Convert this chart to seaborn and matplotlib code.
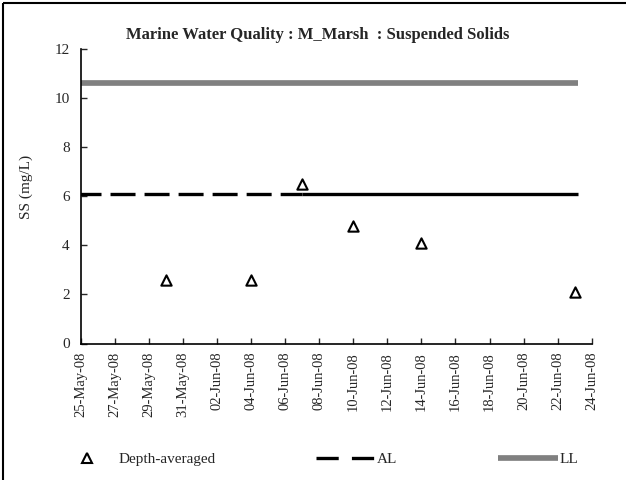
"""
Marine Water Quality : M_Marsh : Suspended Solids
"""
import pandas as pd
import matplotlib
matplotlib.use('Agg')
import matplotlib.pyplot as plt
import matplotlib.dates as mdates
from matplotlib.lines import Line2D
import seaborn as sns

# Datos
sample_dates = ['2008-05-30', '2008-06-04', '2008-06-07', '2008-06-10', '2008-06-14', '2008-06-23']
ss_values = [2.6, 2.6, 6.5, 4.8, 4.1, 2.1]

# Limites: AL (accion) y LL (limite)
al_value = 6.1
ll_value = 10.6
limit_start = '2008-05-24 17:00'
limit_end = '2008-06-23 04:00'
al_dash_end = '2008-06-07 00:00'   # la linea AL pasa de discontinua a continua aqui

x_start = '2008-05-25'
x_end = '2008-06-24'

df = pd.DataFrame({'date': pd.to_datetime(sample_dates), 'ss': ss_values})
ll_df = pd.DataFrame({'date': pd.to_datetime([limit_start, limit_end]), 'v': [ll_value, ll_value]})
al_dash_df = pd.DataFrame({'date': pd.to_datetime([limit_start, al_dash_end]), 'v': [al_value, al_value]})
al_solid_df = pd.DataFrame({'date': pd.to_datetime([al_dash_end, limit_end]), 'v': [al_value, al_value]})

sns.set_style('white')
plt.rcParams['font.family'] = ['Liberation Serif', 'DejaVu Serif']
plt.rcParams['lines.scale_dashes'] = False
plt.rcParams['lines.solid_capstyle'] = 'butt'
plt.rcParams['lines.dash_capstyle'] = 'butt'

fig = plt.figure(figsize=(6.26, 4.8), dpi=100)
ax = fig.add_axes([80.7 / 626, 1 - 343.5 / 480, 511 / 626, 294.5 / 480])

sns.lineplot(data=ll_df, x='date', y='v', ax=ax, color='#808080', linewidth=4.1)
sns.lineplot(data=al_dash_df, x='date', y='v', ax=ax, color='black', linewidth=2.4)
ax.lines[-1].set_dashes((18, 6.5))
sns.lineplot(data=al_solid_df, x='date', y='v', ax=ax, color='black', linewidth=2.4)
sns.scatterplot(data=df, x='date', y='ss', ax=ax, marker='^', s=55,
                facecolor='white', edgecolor='black', linewidth=1.5, zorder=5)

ax.set_xlim(pd.Timestamp(x_start), pd.Timestamp(x_end))
ax.set_ylim(0, 12)
ax.set_yticks(range(0, 13, 2))
ax.xaxis.set_major_locator(mdates.DayLocator(interval=2))
ax.xaxis.set_major_formatter(mdates.DateFormatter('%d-%b-%y'))
ax.tick_params(axis='x', rotation=90, labelsize=10.5, direction='in', length=4, width=1, pad=6)
ax.tick_params(axis='y', labelsize=11, direction='in', length=4, width=1, pad=8)
ax.tick_params(bottom=True, left=True)

for side in ['top', 'right']:
    ax.spines[side].set_visible(False)
for side in ['left', 'bottom']:
    ax.spines[side].set_color('black')
    ax.spines[side].set_linewidth(1.2)

ax.set_xlabel('')
ax.set_ylabel('SS (mg/L)', fontsize=11)
ax.yaxis.set_label_coords(-0.093, 0.53)

fig.text(318 / 626, 1 - 35 / 480, 'Marine Water Quality : M_Marsh  : Suspended Solids',
         ha='center', va='center', fontsize=12, fontweight='bold')

# Leyenda inferior
handles = [
    Line2D([], [], marker='^', linestyle='none', markersize=7, markerfacecolor='white',
           markeredgecolor='black', markeredgewidth=1.5),
    Line2D([], [], color='black', linewidth=2.4, dashes=(16, 9.5)),
    Line2D([], [], color='#808080', linewidth=4.1),
]
fig.legend(handles, ['Depth-averaged', 'AL', 'LL'], loc='center left',
           bbox_to_anchor=(57 / 626, 1 - 459 / 480), ncol=3, frameon=False,
           fontsize=11, handlelength=3.9, handletextpad=0.1, columnspacing=6.6,
           borderpad=0, borderaxespad=0)

# Marco de la figura
fig.add_artist(Line2D([3 / 626, 3 / 626], [0, 1 - 3 / 480], transform=fig.transFigure,
                      color='black', linewidth=1.5))
fig.add_artist(Line2D([3 / 626, 1], [1 - 3 / 480, 1 - 3 / 480], transform=fig.transFigure,
                      color='black', linewidth=1.5))

fig.savefig('out.png', dpi=100)
plt.close(fig)
